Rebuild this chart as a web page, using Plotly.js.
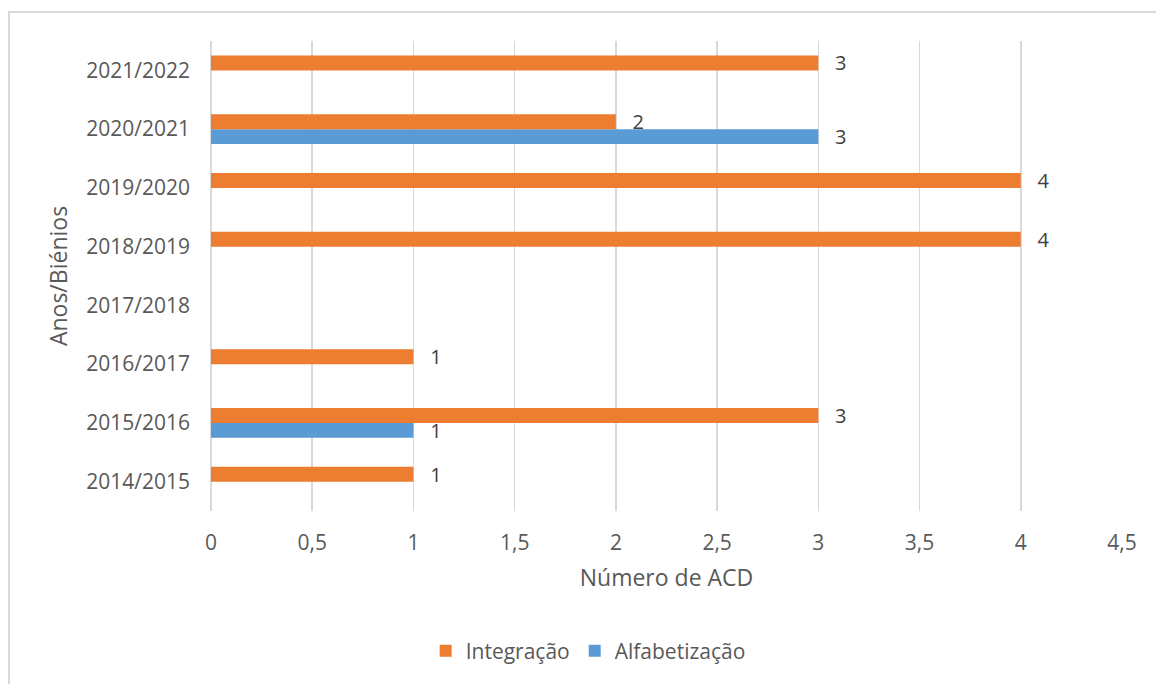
<!DOCTYPE html>
<html>
<head>
<meta charset="utf-8">
<script src="https://cdn.plot.ly/plotly-3.0.1.min.js"></script>
<style>
  html, body { margin: 0; padding: 0; overflow: hidden; background: #fff; }
  #chart { width: 1156px; height: 684px; }
  #frame { position: absolute; left: 8px; top: 11px; width: 1170px; height: 700px;
           border: 2px solid #d9d9d9; pointer-events: none; }
</style>
</head>
<body>
<div id="chart"></div>
<div id="frame"></div>
<script>
const categories = ['2014/2015', '2015/2016', '2016/2017', '2017/2018', '2018/2019', '2019/2020', '2020/2021', '2021/2022'];
const integracao = [1, 3, 1, null, 4, 4, 2, 3];
const alfabetizacao = [null, 1, null, null, null, null, 3, null];
const xTicks = [0, 0.5, 1, 1.5, 2, 2.5, 3, 3.5, 4, 4.5];
const xTickLabels = ['0', '0,5', '1', '1,5', '2', '2,5', '3', '3,5', '4', '4,5'];

const FONT = 'Open Sans, sans-serif';
const pad = '\u00a0\u00a0\u2009';

const traces = [
  {
    type: 'bar', orientation: 'h', name: 'Alfabetização',
    y: categories, x: alfabetizacao,
    marker: { color: '#5b9bd5' },
    texttemplate: pad + '%{x}', textposition: 'outside', cliponaxis: false,
    constraintext: 'none', textangle: 0,
    textfont: { family: FONT, size: 20, color: '#404040' },
    hoverinfo: 'x+y+name'
  },
  {
    type: 'bar', orientation: 'h', name: 'Integração',
    y: categories, x: integracao,
    marker: { color: '#ed7d31' },
    texttemplate: pad + '%{x}', textposition: 'outside', cliponaxis: false,
    constraintext: 'none', textangle: 0,
    textfont: { family: FONT, size: 20, color: '#404040' },
    hoverinfo: 'x+y+name'
  }
];

const layout = {
  width: 1156, height: 684,
  margin: { l: 211, r: 34, t: 41, b: 173 },
  paper_bgcolor: '#ffffff', plot_bgcolor: '#ffffff',
  font: { family: FONT, size: 21, color: '#595959' },
  barmode: 'group', bargap: 0.49, bargroupgap: 0,
  showlegend: true,
  legend: {
    orientation: 'h', traceorder: 'reversed',
    x: 0.414, xanchor: 'center', y: -0.298, yanchor: 'middle',
    font: { family: FONT, size: 21, color: '#595959' },
    itemwidth: 30
  },
  xaxis: {
    range: [0, 4.5], tickvals: xTicks, ticktext: xTickLabels,
    showgrid: true, gridcolor: '#d9d9d9', gridwidth: 1.5,
    zeroline: true, zerolinecolor: '#d9d9d9', zerolinewidth: 1.5,
    showline: false, ticks: '', ticklabelstandoff: 17,
    tickfont: { family: FONT, size: 21, color: '#595959' },
    title: { text: 'Número de ACD', standoff: 14, font: { family: FONT, size: 23, color: '#595959' } },
    fixedrange: true
  },
  yaxis: {
    type: 'category', categoryorder: 'array', categoryarray: categories,
    showgrid: false, showline: false, ticks: '', ticklabelstandoff: 20,
    tickfont: { family: FONT, size: 21, color: '#595959' },
    title: { text: 'Anos/Biénios', standoff: 12, font: { family: FONT, size: 23, color: '#595959' } },
    fixedrange: true
  }
};

Plotly.newPlot('chart', traces, layout, { displayModeBar: false, staticPlot: true });
</script>
</body>
</html>
